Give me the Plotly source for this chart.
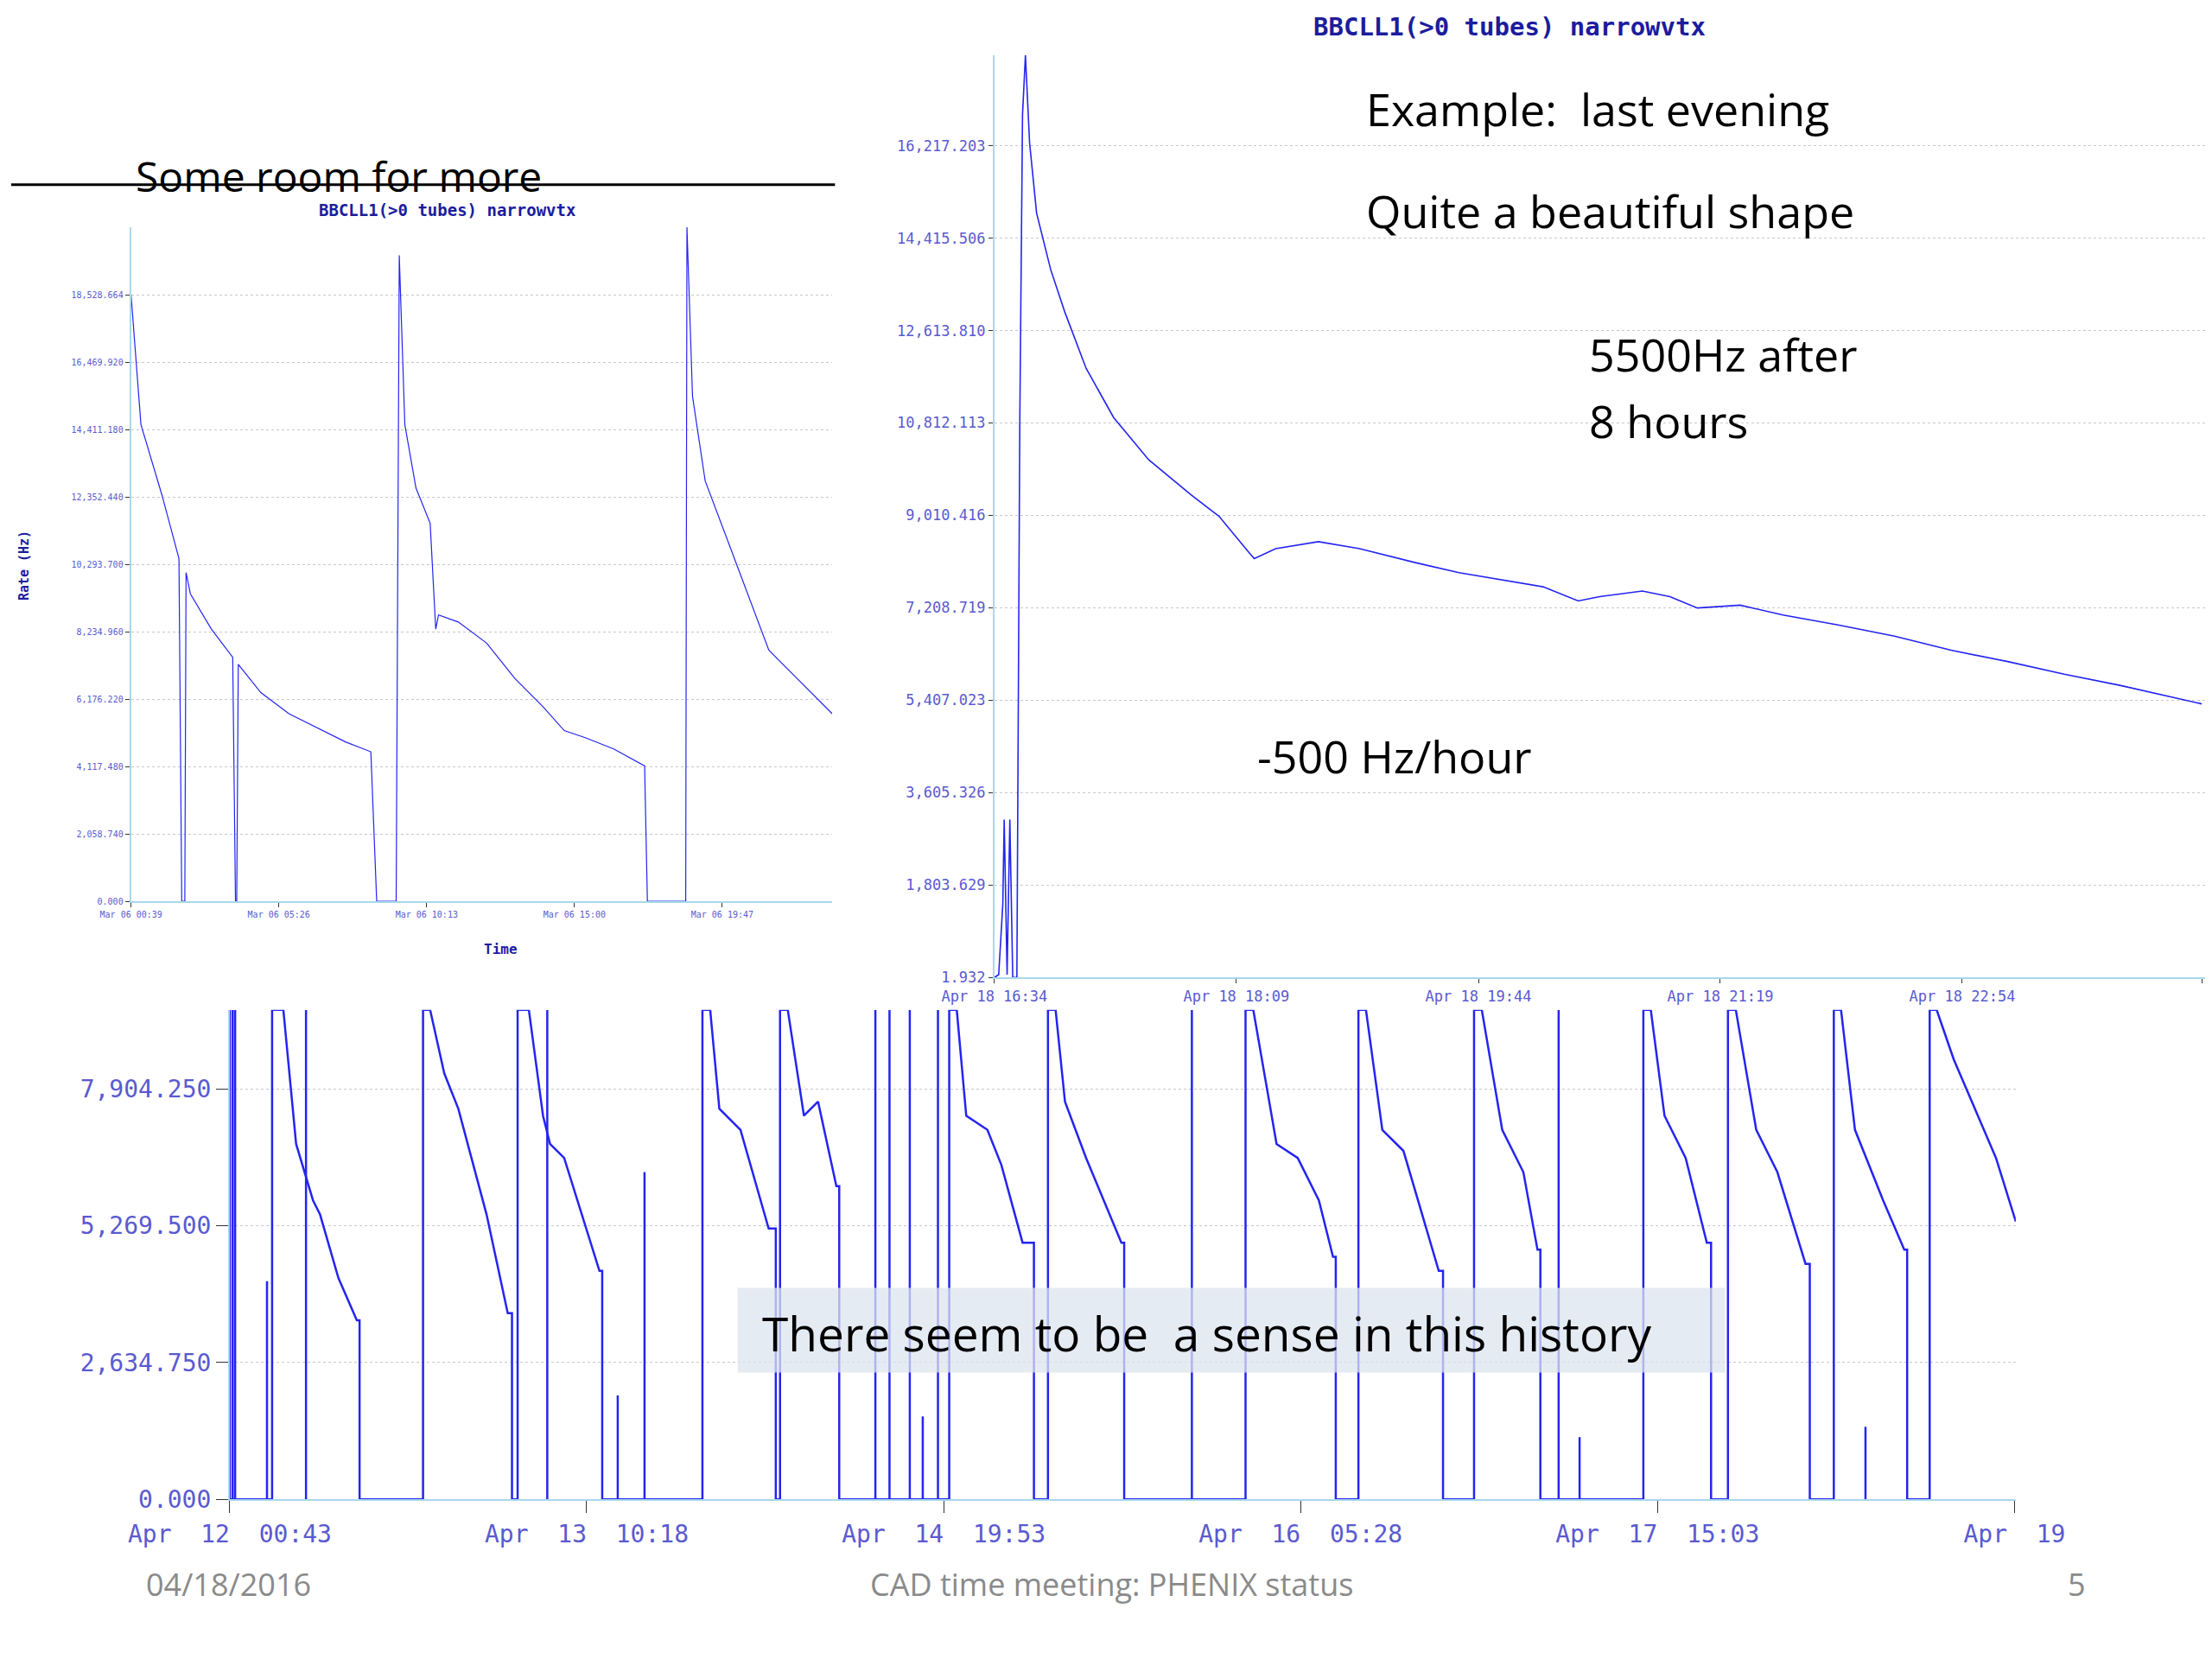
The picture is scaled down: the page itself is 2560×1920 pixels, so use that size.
import plotly.graph_objects as go

# ---- small chart (top left): hours since Mar 06 00:39, rate in Hz
tl_h = [0, 0.32, 1.0, 1.55, 1.64, 1.74, 1.78, 1.92, 2.60, 3.29, 3.38, 3.42, 3.47, 4.20, 5.11, 6.03,
        6.94, 7.76, 7.95, 8.58, 8.68, 8.86, 9.22, 9.68, 9.86, 9.95, 10.59, 11.51, 12.42, 13.33, 14.02,
        14.70, 15.62, 16.62, 16.71, 17.95, 17.99, 18.17, 18.58, 19.27, 19.95, 20.64, 21.55, 22.69]
tl_v = [18529, 14564, 12410, 10471, 0, 0, 10040, 9394, 8316, 7455, 0, 0, 7239, 6377, 5731, 5300,
        4869, 4568, 0, 0, 19735, 14564, 12625, 11548, 8316, 8747, 8532, 7885, 6808, 5946, 5214,
        4998, 4654, 4137, 0, 0, 20597, 15426, 12841, 11117, 9394, 7670, 6808, 5731]
tl_tickvals = [0, 4.783, 9.567, 14.35, 19.133]
tl_ticktext = ["Mar 06 00:39", "Mar 06 05:26", "Mar 06 10:13", "Mar 06 15:00", "Mar 06 19:47"]
tl_ytick = [0, 2058.740, 4117.480, 6176.220, 8234.960, 10293.700, 12352.440, 14411.180, 16469.920, 18528.664]

# ---- last evening (top right): hours since Apr 18 16:34
tr_h = [0, 0.028, 0.055, 0.064, 0.083, 0.101, 0.12, 0.147, 0.166, 0.184, 0.203, 0.23, 0.276, 0.368,
        0.46, 0.6, 0.78, 1.01, 1.29, 1.47, 1.66, 1.70, 1.84, 2.12, 2.39, 2.76, 3.04, 3.31, 3.59, 3.82,
        3.96, 4.24, 4.42, 4.60, 4.88, 5.16, 5.52, 5.89, 6.26, 6.63, 7.00, 7.37, 7.90]
tr_v = [0, 55, 1430, 3080, 55, 3080, 0, 0, 10780, 16830, 17985, 16280, 14905, 13805,
        12980, 11880, 10918, 10093, 9405, 8993, 8305, 8168, 8360, 8498, 8360, 8085, 7893, 7755, 7618, 7343,
        7425, 7535, 7425, 7205, 7260, 7068, 6875, 6655, 6380, 6160, 5913, 5693, 5335]
tr_tickvals = [0, 1.583, 3.167, 4.75, 6.333, 7.90]
tr_ticktext = ["Apr 18 16:34", "Apr 18 18:09", "Apr 18 19:44", "Apr 18 21:19", "Apr 18 22:54", "Apr 19 0"]
tr_ytick = [1.932, 1803.629, 3605.326, 5407.023, 7208.719, 9010.416, 10812.113, 12613.810, 14415.506, 16217.203]

# ---- week history (bottom): hours since Apr 12 00:43
fill_start = [3.98, 18.18, 27.08, 44.47, 51.77, 67.69, 76.98, 95.57, 106.19, 117.07, 133.00, 140.96, 150.92, 159.94]
fill_drop = [12.21, 26.55, 35.04, 51.37, 57.34, 75.66, 84.15, 104.06, 114.15, 123.31, 139.37, 148.66, 157.82, None]
fill_h = [[5.04, 6.24, 7.83, 8.49, 10.22, 11.95],
          [18.85, 20.18, 21.50, 24.16, 26.15],
          [28.14, 29.47, 30.13, 31.46, 34.78],
          [45.2, 46.06, 48.05, 50.70],
          [52.5, 54.02, 55.35, 57.07],
          [68.4, 69.29, 71.28, 72.60, 74.59],
          [77.7, 78.58, 80.57, 83.89],
          [96.3, 98.49, 100.48, 102.47, 103.80],
          [106.9, 108.44, 110.43, 113.75],
          [117.8, 119.72, 121.71, 123.04],
          [133.7, 134.99, 136.98, 138.97],
          [141.7, 143.62, 145.61, 148.26],
          [151.6, 152.91, 155.56, 157.55],
          [160.6, 162.20, 164.19, 166.18, 168.04]]
fill_v = [[9424, 6844, 5758, 5486, 4264, 3449],
          [9424, 8202, 7523, 5486, 3585],
          [9424, 7388, 6844, 7388, 6573, 4400][:1] + [7388, 6844, 6573, 4400],
          [9424, 7523, 7116, 5215],
          [9424, 7388, 7659, 6030],
          [9424, 7388, 7116, 6437, 4943],
          [9424, 7659, 6573, 4943],
          [9424, 6844, 6573, 5758, 4672],
          [9424, 7116, 6709, 4400],
          [9424, 7116, 6301, 4807],
          [9424, 7388, 6573, 4943],
          [9424, 7116, 6301, 4536],
          [9424, 7116, 5758, 4807],
          [9424, 8474, 7523, 6573, 5350]]
spike_h = [0.0, 0.27, 0.5, 3.5, 7.17, 29.87, 36.5, 39.02, 60.74, 62.07, 63.98, 65.2, 66.63, 90.52, 125.03, 127.0, 153.9]
spike_v = [9424, 9424, 9424, 4200, 9424, 9424, 2000, 6300, 9424, 9424, 9424, 1600, 9424, 9424, 9424, 1200, 1400]
bt_tickvals = [0, 33.58, 67.17, 100.75, 134.33, 167.92]
bt_ticktext = ["Apr  12  00:43", "Apr  13  10:18", "Apr  14  19:53", "Apr  16  05:28", "Apr  17  15:03", "Apr  19"]
bt_ytick = [0, 2634.750, 5269.500, 7904.250]

BLUE = "#2424f0"
TICK = "#5a5ad0"
W, H = 1568.0, 1176.0


def X(v):
    return v / W


def Y(v):
    return 1 - (v - 4) / H


# build bottom line
bx, by = [0], [0]
for s, d, hh, vv in zip(fill_start, fill_drop, fill_h, fill_v):
    bx += [s, s] + hh
    by += [0, 9424] + vv
    if d is not None:
        bx += [d, d]
        by += [vv[-1], 0]
sx, sy = [], []
for h, v in zip(spike_h, spike_v):
    sx += [h, h, None]
    sy += [0, v, None]

fig = go.Figure()
fig.add_trace(go.Scatter(x=bx, y=by, mode="lines", line=dict(color=BLUE, width=2.5), xaxis="x3", yaxis="y3"))
fig.add_trace(go.Scatter(x=sx, y=sy, mode="lines", line=dict(color=BLUE, width=2.5), xaxis="x3", yaxis="y3"))
fig.add_trace(go.Scatter(x=tl_h, y=tl_v, mode="lines", line=dict(color=BLUE, width=1.2), xaxis="x", yaxis="y"))
fig.add_trace(go.Scatter(x=tr_h, y=tr_v, mode="lines", line=dict(color=BLUE, width=1.6), xaxis="x2", yaxis="y2"))

mono = "DejaVu Sans Mono"
common = dict(showline=True, linecolor="#a8d8ec", linewidth=2, ticks="outside", tickcolor="#333",
              zeroline=False, gridcolor="#c8c8c8", griddash="dot", automargin=False)

fig.update_layout(
    width=2560, height=1920, margin=dict(l=0, r=0, t=0, b=0),
    paper_bgcolor="white", plot_bgcolor="rgba(0,0,0,0)", showlegend=False,
    xaxis=dict(domain=[X(88), X(585)], range=[0, 22.69], tickvals=tl_tickvals, ticktext=tl_ticktext,
               showgrid=False, tickfont=dict(family=mono, size=10, color=TICK), anchor="y", **common),
    yaxis=dict(domain=[Y(638), Y(160)], range=[0, 20600], tickvals=tl_ytick,
               ticktext=[f"{v:,.3f}" for v in tl_ytick], anchor="x",
               tickfont=dict(family=mono, size=10, color=TICK), **common),
    xaxis2=dict(domain=[X(700), X(1558)], range=[0, 7.92], tickvals=tr_tickvals, ticktext=tr_ticktext,
                showgrid=False, tickfont=dict(family=mono, size=17, color=TICK), anchor="y2", **common),
    yaxis2=dict(domain=[Y(692), Y(38)], range=[0, 17990], tickvals=tr_ytick,
                ticktext=[f"{v:,.3f}" for v in tr_ytick], anchor="x2",
                tickfont=dict(family=mono, size=17, color=TICK), **common),
    xaxis3=dict(domain=[X(158), X(1424)], range=[0, 168.04], tickvals=bt_tickvals, ticktext=bt_ticktext,
                showgrid=False, tickfont=dict(family=mono, size=28, color=TICK), anchor="y3", **common),
    yaxis3=dict(domain=[Y(1062), Y(715)], range=[0, 9424], tickvals=bt_ytick,
                ticktext=[f"{v:,.3f}" for v in bt_ytick], anchor="x3",
                tickfont=dict(family=mono, size=28, color=TICK), **common),
)
fig.update_layout(xaxis3_ticklen=14, yaxis3_ticklen=14)

ann = []
def text(t, x, y, size, color="black", xanchor="left", family="Open Sans", angle=0):
    ann.append(dict(text=t, x=X(x), y=Y(y), xref="paper", yref="paper", showarrow=False, textangle=angle,
                    xanchor=xanchor, yanchor="middle", font=dict(family=family, size=size, color=color)))

text("<b>BBCLL1(>0 tubes) narrowvtx</b>", 1065, 18, 29, "#1c1c9c", "center", mono)
text("<b>BBCLL1(>0 tubes) narrowvtx</b>", 312, 148, 19, "#1c1c9c", "center", mono)
text("<b>Time</b>", 350, 672, 16, "#1c1c9c", "center", mono)
text("<b>Rate (Hz)</b>", 12, 400, 15, "#1c1c9c", "center", mono, -90)
text("Some room for more", 90, 124, 48)
text("Example:  last evening", 962, 76, 52)
text("Quite a beautiful shape", 962, 148, 52)
text("5500Hz after", 1120, 250, 52)
text("8 hours", 1120, 297, 52)
text("-500 Hz/hour", 885, 535, 52)
text("04/18/2016", 157, 1122, 36, "#8a8a8a", "center")
text("CAD time meeting: PHENIX status", 783, 1122, 36, "#8a8a8a", "center")
text("5", 1467, 1122, 36, "#8a8a8a", "center")
text("There seem to be  a sense in this history", 534, 944, 55)
fig.update_layout(annotations=ann)

fig.update_layout(shapes=[
    dict(type="line", xref="paper", yref="paper", x0=X(3), x1=X(587), y0=Y(130), y1=Y(130),
         line=dict(color="black", width=3)),
    dict(type="rect", xref="paper", yref="paper", x0=X(518), x1=X(1218), y0=Y(972), y1=Y(912),
         fillcolor="rgba(220,228,238,0.75)", line=dict(width=0), layer="above"),
])

fig.write_html("out.html")
